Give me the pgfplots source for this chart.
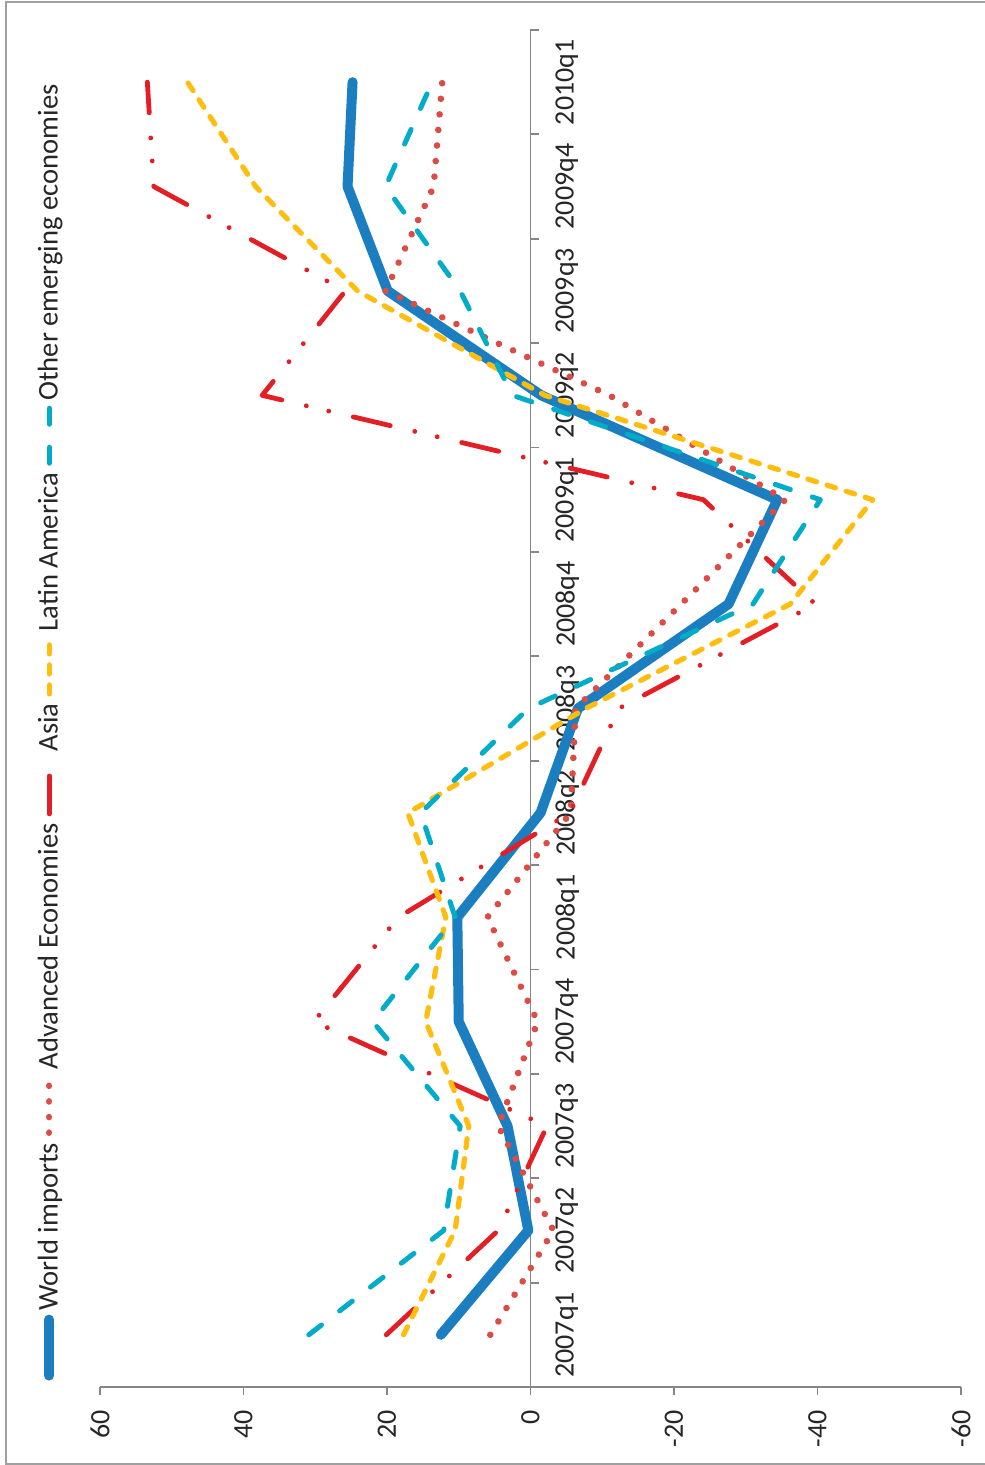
\documentclass[border=0pt]{standalone}
\usepackage{pgfplots}
\pgfplotsset{compat=1.18}
\usepackage{fontspec}
\setmainfont{Carlito}
\definecolor{cworld}{RGB}{26,126,192}
\definecolor{cadv}{RGB}{220,76,70}
\definecolor{casia}{RGB}{227,30,36}
\definecolor{clat}{RGB}{255,190,15}
\definecolor{coth}{RGB}{0,172,200}
\definecolor{caxis}{RGB}{134,134,134}
\definecolor{cframe}{RGB}{160,160,160}
\pgfplotstableread{
x world adv asia lat oth
0.5 12.5 5.6 20.1 17.7 30.9
1.5 0.3 -3.2 4.5 10.5 12.1
2.5 3.2 4.5 -2.3 8.6 9.8
3.5 10.0 -1.0 30.2 14.6 22.0
4.5 10.2 6.0 18.4 11.8 10.5
5.5 -1.4 -5.6 -5.5 17.1 15.3
6.5 -6.6 -6.3 -12.3 -7.7 0.3
7.5 -27.6 -21.0 -39.7 -36.2 -31.0
8.5 -34.4 -35.5 -24.1 -47.7 -40.4
9.5 -1.5 -11.0 37.4 -2.0 2.5
10.5 19.9 20.2 25.8 24.1 9.8
11.5 25.5 13.5 52.5 38.3 20.2
12.5 24.8 12.3 53.4 47.8 13.7
}\datatable
\begin{document}
\begin{tikzpicture}
\useasboundingbox (-480.5pt,-39pt) rectangle (11.5pt,693.5pt);
\draw[line width=1pt, color=cframe] (30pt,-38.25pt) -- (-477.5pt,-38.25pt) -- (-477.5pt,692.25pt) -- (30pt,692.25pt);
\begin{scope}[rotate=90, transform shape]
\begin{axis}[
  at={(0pt,0pt)}, anchor=south west,
  scale only axis, width=678.5pt, height=430.5pt,
  xmin=0, xmax=13, ymin=-60, ymax=60,
  axis x line=middle, axis y line=left,
  axis line style={-, draw=caxis, line width=0.9pt},
  tick align=outside,
  xtick={0.5,1.5,...,12.5},
  xticklabels={2007q1,2007q2,2007q3,2007q4,2008q1,2008q2,2008q3,2008q4,2009q1,2009q2,2009q3,2009q4,2010q1},
  minor xtick={0,1,...,13},
  major x tick style={draw=none},
  minor x tick style={draw=caxis, line width=0.9pt},
  minor tick length=4.5pt,
  ytick={-60,-40,-20,0,20,40,60},
  yticklabels={-60,-40,-20,0,20,40,60},
  y tick style={draw=caxis, line width=0.9pt},
  major tick length=4pt,
  ticklabel style={font=\fontsize{14}{16}\selectfont, text=black!85},
  xticklabel style={yshift=-5pt},
  yticklabel style={xshift=-4pt},
  clip=false,
  legend columns=-1,
  legend style={at={(0,1)}, anchor=south west, xshift=0pt, yshift=15.5pt, draw=none, fill=none,
    font=\fontsize{14.3}{17}\selectfont, text=black!85,
    /tikz/every even column/.append style={column sep=1.5pt}},
  legend image code/.code={\draw[#1] (0pt,0pt) -- (28pt,0pt);},
]
\addplot[cworld, line width=5pt, line cap=round, line join=round] table[x=x,y=world] {\datatable};
\addlegendentry{World imports}
\addplot[cadv, line width=3.3pt, line cap=round, line join=round, dash pattern=on 0.01pt off 7.8pt] table[x=x,y=adv] {\datatable};
\addlegendentry{Advanced Economies}
\addplot[casia, line width=2.4pt, line cap=round, line join=round, dash pattern=on 19pt off 12.6pt on 0.01pt off 11.5pt on 0.01pt off 12.6pt] table[x=x,y=asia] {\datatable};
\addlegendentry{Asia}
\addplot[clat, line width=2.6pt, line cap=round, line join=round, dash pattern=on 4.5pt off 5.5pt] table[x=x,y=lat] {\datatable};
\addlegendentry{Latin America}
\addplot[coth, line width=2.5pt, line cap=round, line join=round, dash pattern=on 8pt off 11.5pt] table[x=x,y=oth] {\datatable};
\addlegendentry{Other emerging economies}
\end{axis}
\end{scope}
\end{tikzpicture}
\end{document}
